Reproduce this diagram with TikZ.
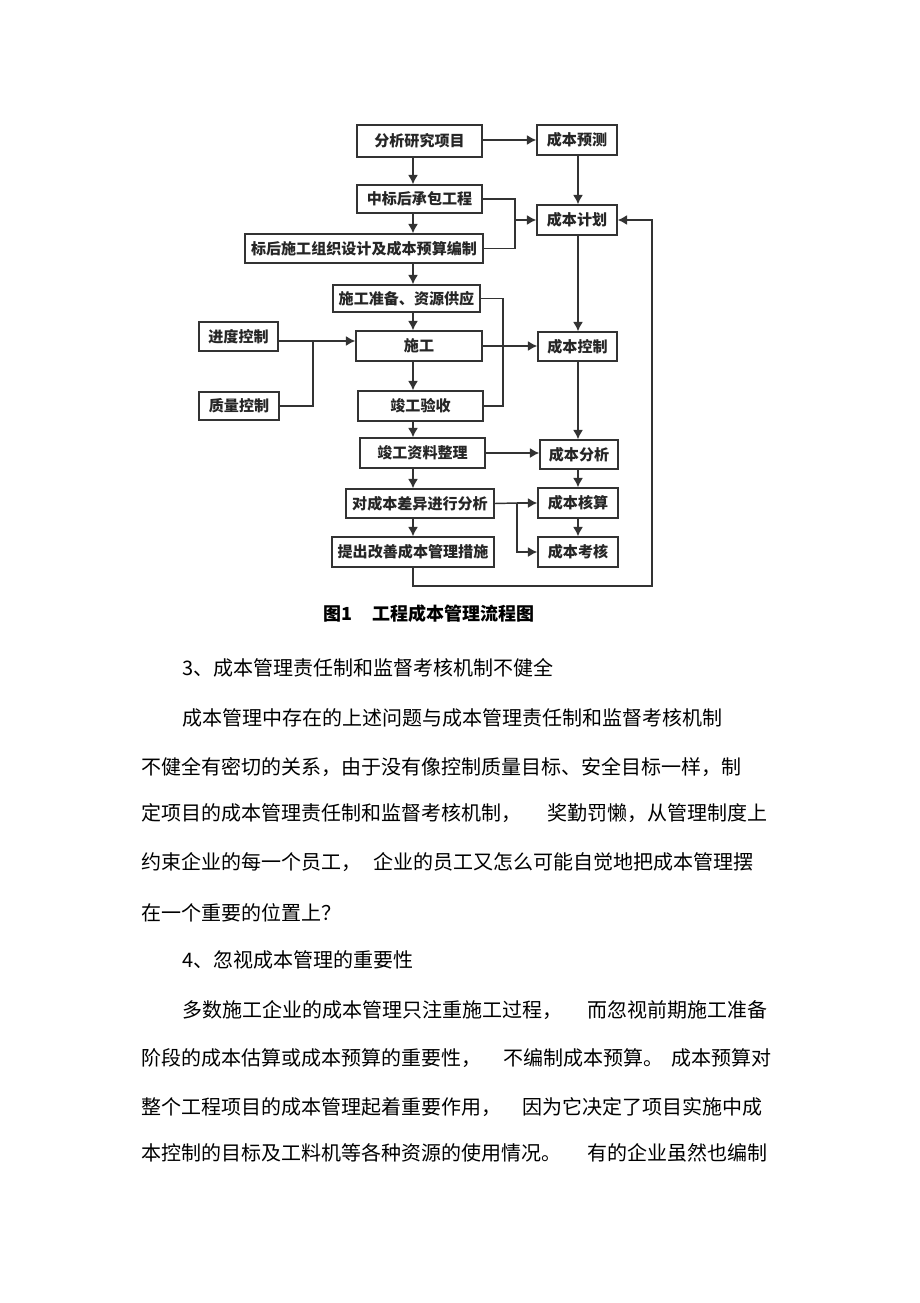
\documentclass[tikz,border=0pt]{standalone}
\usepackage{fontspec}
\newfontfamily\cjk{Noto Sans CJK SC}
\usetikzlibrary{arrows.meta,positioning,calc}
\newcommand{\pxu}{0.75pt}
\tikzset{
  box/.style={draw=black!80, line width=1.1pt, fill=white, inner sep=0pt,
    minimum height=29*\pxu, text=black!85,
    font=\cjk\bfseries\fontsize{11.3}{11.3}\selectfont},
  link/.style={draw=black!80, line width=1.1pt},
  arr/.style={link, -{Latex[length=7pt,width=7.5pt]}},
  para/.style={anchor=west, inner sep=0pt, font=\cjk\fontsize{15}{15}\selectfont},
}
\begin{document}
\begin{tikzpicture}[x=0.75pt, y=-0.75pt]
\useasboundingbox (0,0) rectangle (920,1303);
\fill[white] (0,0) rectangle (920,1303);

% left column
\node[box, minimum width=125*\pxu, minimum height=32*\pxu] (fenxi) at (419.5,141) {分析研究项目};
\node[box, minimum width=125*\pxu, minimum height=28*\pxu] (zhongbiao) at (419.5,199) {中标后承包工程};
\node[box, minimum width=238*\pxu] (biaohou) at (364,248.5) {标后施工组织设计及成本预算编制};
\node[box, minimum width=147*\pxu, minimum height=27*\pxu] (zhunbei) at (406.5,298.5) {施工准备、资源供应};
\node[box, minimum width=126*\pxu, minimum height=30*\pxu] (shigong) at (419,346) {施工};
\node[box, minimum width=125*\pxu, minimum height=30*\pxu] (yanshou) at (420.5,406) {竣工验收};
\node[box, minimum width=125*\pxu, minimum height=30*\pxu] (ziliao) at (422.5,453) {竣工资料整理};
\node[box, minimum width=148*\pxu] (chayi) at (420,503.5) {对成本差异进行分析};
\node[box, minimum width=162*\pxu, minimum height=30*\pxu] (gaishan) at (413,552) {提出改善成本管理措施};

% side inputs
\node[box, minimum width=79*\pxu] (jindu) at (238.5,336.5) {进度控制};
\node[box, minimum width=80*\pxu, minimum height=28*\pxu] (zhiliang) at (239,406) {质量控制};

% right column
\node[box, minimum width=80*\pxu, minimum height=30*\pxu] (yuce) at (577,140) {成本预测};
\node[box, minimum width=80*\pxu, minimum height=30*\pxu] (jihua) at (577,220) {成本计划};
\node[box, minimum width=79*\pxu] (kongzhi) at (577.5,346.5) {成本控制};
\node[box, minimum width=78*\pxu] (fenxib) at (579,454.5) {成本分析};
\node[box, minimum width=80*\pxu, minimum height=30*\pxu] (hesuan) at (578,503) {成本核算};
\node[box, minimum width=80*\pxu, minimum height=30*\pxu] (kaohe) at (578,552) {成本考核};

% helper points
\coordinate (spine) at (413,0);
\coordinate (rspine) at (578,0);
\coordinate (merge) at (515,220);
\coordinate (bracket) at (503,346);
\coordinate (qc) at (313,341);
\coordinate (split) at (517,503);
\coordinate (fb) at (652,586);

% main flow
\foreach \a/\b in {fenxi/zhongbiao, zhongbiao/biaohou, biaohou/zhunbei, zhunbei/shigong,
  shigong/yanshou, yanshou/ziliao, ziliao/chayi, chayi/gaishan}
  \draw[arr] (\a.south -| spine) -- (\b.north -| spine);
\foreach \a/\b in {yuce/jihua, jihua/kongzhi, kongzhi/fenxib, fenxib/hesuan, hesuan/kaohe}
  \draw[arr] (\a.south -| rspine) -- (\b.north -| rspine);

% cross links
\draw[arr] (fenxi.east |- yuce) -- (yuce.west);
\draw[link] (zhongbiao.east) -- (zhongbiao.east -| merge) -- (biaohou.east -| merge) -- (biaohou.east);
\draw[arr] (merge) -- (jihua.west);
\draw[link] (zhunbei.east) -- (zhunbei.east -| bracket) -- (yanshou.east -| bracket) -- (yanshou.east);
\draw[arr] (shigong.east) -- (kongzhi.west |- shigong.east);
\draw[arr] (jindu.east |- qc) -- (shigong.west |- qc);
\draw[link] (zhiliang.east) -| (qc);
\draw[arr] (ziliao.east) -- (fenxib.west |- ziliao.east);
\draw[link] (chayi.east) -- (split);
\draw[arr] (split) -- (hesuan.west);
\draw[arr] (split) |- (kaohe.west);
\draw[arr] (gaishan.south -| spine) |- (fb) |- (jihua.east);

% caption
\node[anchor=west, inner sep=0pt, font=\cjk\bfseries\fontsize{13.5}{13.5}\selectfont] (caption) at (323,614) {图1\hspace{1.1em}工程成本管理流程图};

% body text
\node[para] (h3) at (182,668) {3、成本管理责任制和监督考核机制不健全};
\node[para] (p1a) at (182,718) {成本管理中存在的上述问题与成本管理责任制和监督考核机制};
\node[para] (p1b) at (141,767) {不健全有密切的关系，由于没有像控制质量目标、安全目标一样，制};
\node[para] (p1c) at (141,813) {定项目的成本管理责任制和监督考核机制，\hspace{1.3em}奖勤罚懒，从管理制度上};
\node[para] (p1d) at (141,862) {约束企业的每一个员工，\hspace{0.6em}企业的员工又怎么可能自觉地把成本管理摆};
\node[para] (p1e) at (141,913) {在一个重要的位置上？};
\node[para] (h4) at (182,960) {4、忽视成本管理的重要性};
\node[para] (p2a) at (182,1010) {多数施工企业的成本管理只注重施工过程，\hspace{1.25em}而忽视前期施工准备};
\node[para] (p2b) at (141,1058) {阶段的成本估算或成本预算的重要性，\hspace{1.1em}不编制成本预算。\hspace{0.4em}成本预算对};
\node[para] (p2c) at (141,1107) {整个工程项目的成本管理起着重要作用，\hspace{1.05em}因为它决定了项目实施中成};
\node[para] (p2d) at (141,1153) {本控制的目标及工料机等各种资源的使用情况。\hspace{1.3em}有的企业虽然也编制};
\end{tikzpicture}
\end{document}
